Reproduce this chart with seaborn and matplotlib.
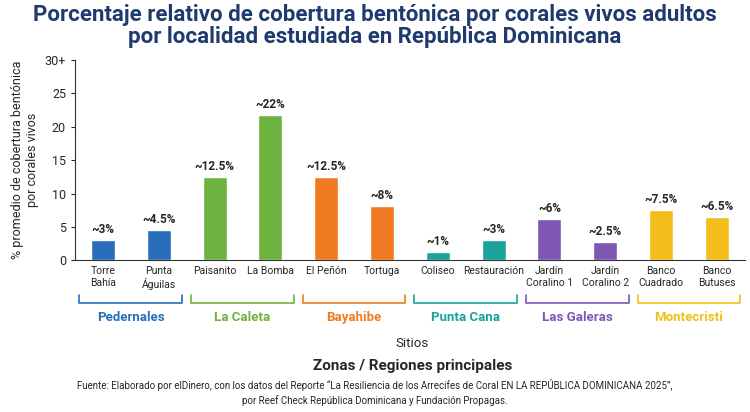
import matplotlib
matplotlib.use("Agg")
import matplotlib.pyplot as plt
import seaborn as sns
import pandas as pd

sites = ["Torre\nBahía", "Punta\nÁguilas", "Paisanito", "La Bomba", "El Peñón", "Tortuga",
         "Coliseo", "Restauración", "Jardín\nCoralino 1", "Jardín\nCoralino 2",
         "Banco\nCuadrado", "Banco\nButuses"]
values = [3.1, 4.5, 12.4, 21.8, 12.4, 8.1, 1.3, 3.1, 6.2, 2.7, 7.5, 6.5]
labels = ["~3%", "~4.5%", "~12.5%", "~22%", "~12.5%", "~8%", "~1%", "~3%", "~6%", "~2.5%", "~7.5%", "~6.5%"]
zones = ["Pedernales", "La Caleta", "Bayahibe", "Punta Cana", "Las Galeras", "Montecristi"]
zone_colors = ["#2a6ebb", "#6db33f", "#f07a22", "#1aa39a", "#7e57b5", "#f2be1a"]

sns.set_style("white")
plt.rcParams['font.family'] = ['Roboto', 'DejaVu Sans']

df = pd.DataFrame({"site": sites, "value": values, "zone": [z for z in zones for _ in range(2)]})
fig = plt.figure(figsize=(7.5, 4.12), dpi=100)
ax = fig.add_axes([0.1, 0.368, 0.893, 0.487])
sns.barplot(data=df, x="site", y="value", hue="zone", palette=zone_colors, dodge=False,
            width=0.43, ax=ax, legend=False, saturation=1)
ax.set_ylim(0, 30)
ax.set_xlim(-0.5, 11.5)
ax.set_yticks([0, 5, 10, 15, 20, 25, 30])
ax.set_yticklabels(["0", "5", "10", "15", "20", "25", "30+"], fontsize=9)
ax.tick_params(axis="x", labelsize=7.5, length=0, pad=4)
ax.tick_params(axis="y", length=3, left=True)
for s in ["top", "right"]:
    ax.spines[s].set_visible(False)
for s in ["left", "bottom"]:
    ax.spines[s].set_color("#333333")
ax.set_xlabel("")
ax.set_ylabel("% promedio de cobertura bentónica\npor corales vivos", fontsize=9)
for i, (v, l) in enumerate(zip(values, labels)):
    ax.text(i, v + 0.6, l, ha="center", va="bottom", fontsize=8.5, fontweight="bold")

trans = ax.get_xaxis_transform()
for g, (z, c) in enumerate(zip(zones, zone_colors)):
    x0, x1 = 2 * g - 0.42, 2 * g + 1.42
    yb = -0.21
    ax.plot([x0, x0, x1, x1], [yb + 0.035, yb, yb, yb + 0.035], color=c, lw=1.2,
            transform=trans, clip_on=False)
    ax.text(2 * g + 0.5, yb - 0.04, z, color=c, fontsize=9.5, fontweight="bold",
            ha="center", va="top", transform=trans)

fig.text(0.5, 0.99, "Porcentaje relativo de cobertura bentónica por corales vivos adultos\npor localidad estudiada en República Dominicana",
         ha="center", va="top", fontsize=16, fontweight="bold", color="#1f3a6e",
         family=['Liberation Sans Narrow', 'Roboto', 'DejaVu Sans'], linespacing=1.0)
fig.text(0.55, 0.158, "Sitios", ha="center", fontsize=9.5)
fig.text(0.55, 0.103, "Zonas / Regiones principales", ha="center", fontsize=11, fontweight="bold")
fig.text(0.5, 0.055, "Fuente: Elaborado por elDinero, con los datos del Reporte “La Resiliencia de los Arrecifes de Coral EN LA REPÚBLICA DOMINICANA 2025”,",
         ha="center", fontsize=7)
fig.text(0.5, 0.02, "por Reef Check República Dominicana y Fundación Propagas.", ha="center", fontsize=7)
fig.savefig("out.png", dpi=100)
